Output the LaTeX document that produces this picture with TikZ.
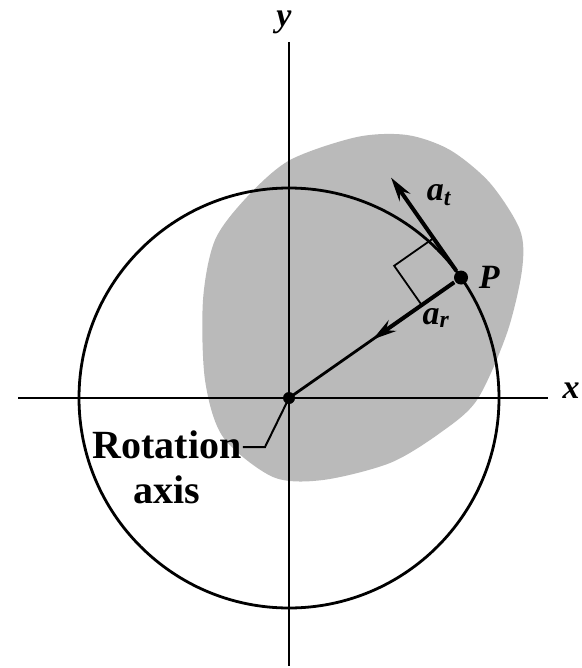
\documentclass[tikz,border=0pt]{standalone}
\usepackage{fontspec}
\setmainfont{Liberation Serif}
\usetikzlibrary{arrows.meta,positioning,calc}

\begin{document}
\begin{tikzpicture}[x=1pt, y=-1pt, >={Stealth[length=24pt,width=13pt]}, line width=2.8pt,
    lab/.style={inner sep=0pt, font=\fontsize{34}{40}\selectfont\bfseries\itshape}]
    \useasboundingbox (0,0) rectangle (581,668);
    % shaded body
    \fill [black!27] plot [smooth cycle] coordinates {(357,137) (407,135) (450,150) (490,183) (520,230) (522,270) (507,333) (477,400) (440,433) (390,463) (323,480) (273,477) (223,437) (205,380) (203,300) (215,240) (247,197) (290,160)};

    \coordinate (O) at (289,398);
    \coordinate (xl) at (18,398);
    \coordinate (xr) at (548,398);
    \coordinate (yt) at (289,42);
    \coordinate (yb) at (289,666);
    \draw (xl) -- (xr);
    \draw (yt) -- (yb);
    \draw (O) circle (210pt);

    \node [circle, fill, inner sep=0pt, minimum size=14pt] (P) at ($(O)+(35:210pt)$) {};
    \coordinate (at) at ($(P)+(125:122pt)$);
    \coordinate (ar) at ($(P)+(215:108pt)$);
    \coordinate (sqa) at ($(P)+(125:48pt)$);

    \draw (O) -- (P);
    \draw [line width=1.8pt] (sqa) -- ++(215:48pt) -- ++(-55:48pt);
    \draw [->, line width=4pt] (P) -- (at);
    \draw [->, line width=4pt] (P) -- (ar);
    \fill (O) circle (6pt);

    \node [lab] (xlab) at (571,391) {x};
    \node [lab] (ylab) at (284,22) {y};
    \node [lab, right=8pt of P] (plab) {P};
    \node [lab] (atlab) at (439,195) {a\textsubscript{t}};
    \node [lab] (arlab) at (436,318) {a\textsubscript{r}};

    \node [align=center, inner sep=0pt, font=\fontsize{40}{45}\selectfont\bfseries] (rot) at (167,467) {Rotation\\axis};
    \coordinate (hook) at (265,447);
    \draw [line width=2pt] (O) -- (hook) -- (hook -| rot.east);
\end{tikzpicture}
\end{document}
